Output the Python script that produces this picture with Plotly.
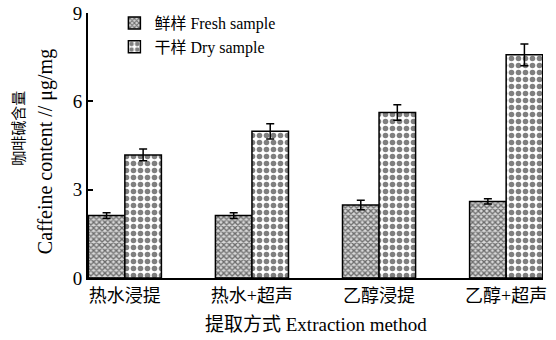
import plotly.graph_objects as go

categories = ["热水浸提", "热水+超声", "乙醇浸提", "乙醇+超声"]
fresh = [2.12, 2.12, 2.48, 2.60]
fresh_err = [0.10, 0.10, 0.16, 0.09]
dry = [4.18, 4.98, 5.62, 7.58]
dry_err = [0.20, 0.26, 0.26, 0.37]
y_ticks = [0, 3, 6, 9]

FONT = "Liberation Serif, Noto Sans CJK SC, serif"

fig = go.Figure()
fig.add_trace(go.Bar(
    x=categories, y=fresh, name="鲜样 Fresh sample",
    marker=dict(color="white", line=dict(color="black", width=1.5),
                pattern=dict(shape="x", size=4, solidity=0.55, fgcolor="black", bgcolor="#d8d8d8")),
    error_y=dict(type="data", array=fresh_err, color="black", thickness=1.5, width=4),
))
fig.add_trace(go.Bar(
    x=categories, y=dry, name="干样 Dry sample",
    marker=dict(color="white", line=dict(color="black", width=1.5),
                pattern=dict(shape=".", size=7, solidity=0.5, fgcolor="black", bgcolor="white")),
    error_y=dict(type="data", array=dry_err, color="black", thickness=1.5, width=4),
))

fig.update_layout(
    width=556, height=340,
    margin=dict(l=88, r=13, t=13, b=62, autoexpand=False),
    paper_bgcolor="white", plot_bgcolor="white",
    barmode="group", bargap=0.425, bargroupgap=0,
    font=dict(family=FONT, size=16, color="black"),
    showlegend=True,
    legend=dict(x=0.058, y=1.026, xanchor="left", yanchor="top",
                bgcolor="rgba(0,0,0,0)", font=dict(size=16), tracegroupgap=2),
    xaxis=dict(range=[-0.29, 3.29], showline=True, linecolor="black", linewidth=2,
               ticks="", tickfont=dict(size=18), showgrid=False, zeroline=False,
               automargin=False),
    yaxis=dict(range=[0, 9], tickvals=y_ticks, showline=True, linecolor="black", linewidth=2,
               ticks="inside", ticklen=5, tickwidth=2, tickcolor="black",
               tickfont=dict(size=19), showgrid=False, zeroline=False,
               automargin=False),
)

fig.add_annotation(text="提取方式 Extraction method", xref="paper", yref="paper",
                   x=0.5, y=-0.177, xanchor="center", yanchor="middle",
                   showarrow=False, font=dict(size=19))
fig.add_annotation(text="Caffeine content // μg/mg", xref="paper", yref="paper",
                   x=-0.0945, y=0.475, xanchor="center", yanchor="middle", textangle=-90,
                   showarrow=False, font=dict(size=20))
fig.add_annotation(text="咖啡碱含量", xref="paper", yref="paper",
                   x=-0.152, y=0.566, xanchor="center", yanchor="middle", textangle=-90,
                   showarrow=False, font=dict(size=15))

fig.write_html("out.html", config={"displayModeBar": False},
               post_script="document.body.style.margin='0';")
